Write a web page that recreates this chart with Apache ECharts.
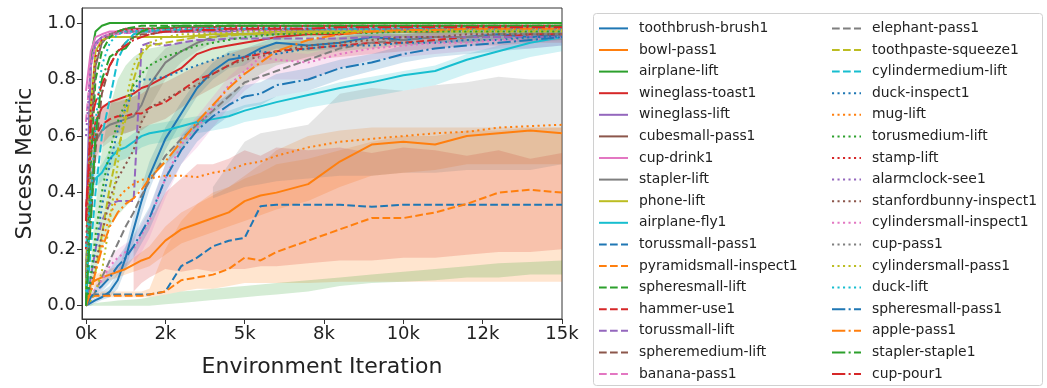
<!DOCTYPE html>
<html><head><meta charset="utf-8">
<script src="https://cdn.jsdelivr.net/npm/echarts@6/dist/echarts.min.js"></script>
<style>html,body{margin:0;padding:0;background:#fff}#c{width:1047px;height:388px}</style>
</head><body><div id="c"></div>
<script>
// ---------- data ----------
const X = [0,150,300,500,750,1000,1250,1500,1750,2000,2500,3000,3500,4000,4500,5000,5500,6000,7000,8000,9000,10000,11000,12000,13000,14000,15000];
const X_TICKS = [0,2500,5000,7500,10000,12500,15000];
const X_TICK_LABELS = ['0k','2k','5k','8k','10k','12k','15k'];
const Y_TICKS = [0,0.2,0.4,0.6,0.8,1.0];

const NAMES = ['toothbrush-brush1','bowl-pass1','airplane-lift','wineglass-toast1','wineglass-lift','cubesmall-pass1','cup-drink1','stapler-lift','phone-lift','airplane-fly1',
 'torussmall-pass1','pyramidsmall-inspect1','spheresmall-lift','hammer-use1','torussmall-lift','spheremedium-lift','banana-pass1','elephant-pass1','toothpaste-squeeze1','cylindermedium-lift',
 'duck-inspect1','mug-lift','torusmedium-lift','stamp-lift','alarmclock-see1','stanfordbunny-inspect1','cylindersmall-inspect1','cup-pass1','cylindersmall-pass1','duck-lift',
 'spheresmall-pass1','apple-pass1','stapler-staple1','cup-pour1'];

const toothbrushBrush1 = [0.0,0.01,0.02,0.03,0.05,0.09,0.17,0.27,0.37,0.46,0.59,0.68,0.77,0.83,0.87,0.88,0.91,0.93,0.92,0.93,0.95,0.94,0.95,0.95,0.96,0.95,0.96];
const bowlPass1 = [0.0,0.08,0.09,0.1,0.11,0.12,0.13,0.145,0.16,0.17,0.23,0.27,0.29,0.31,0.33,0.37,0.39,0.4,0.43,0.51,0.57,0.58,0.57,0.6,0.61,0.62,0.61];
const airplaneLift = [0.05,0.88,0.97,0.99,1.0,1.0,1.0,1.0,1.0,1.0,1.0,1.0,1.0,1.0,1.0,1.0,1.0,1.0,1.0,1.0,1.0,1.0,1.0,1.0,1.0,1.0,1.0];
const wineglassToast1 = [0.3,0.55,0.65,0.7,0.72,0.73,0.74,0.75,0.77,0.78,0.81,0.84,0.89,0.91,0.92,0.93,0.94,0.95,0.96,0.96,0.97,0.97,0.97,0.98,0.98,0.98,0.98];
const wineglassLift = [0.3,0.85,0.93,0.95,0.96,0.97,0.97,0.97,0.97,0.97,0.97,0.97,0.97,0.97,0.97,0.975,0.975,0.975,0.975,0.98,0.98,0.98,0.98,0.98,0.98,0.98,0.98];
const cubesmallPass1 = [0.1,0.6,0.85,0.93,0.96,0.97,0.98,0.98,0.98,0.98,0.98,0.985,0.985,0.985,0.99,0.99,0.99,0.99,0.99,0.99,0.99,0.99,0.99,0.99,0.99,0.99,0.99];
const cupDrink1 = [0.76,0.9,0.95,0.96,0.97,0.97,0.97,0.975,0.975,0.975,0.975,0.975,0.98,0.98,0.98,0.98,0.98,0.98,0.98,0.98,0.98,0.98,0.98,0.98,0.98,0.98,0.98];
const staplerLift = [0.0,0.4,0.58,0.62,0.64,0.65,0.66,0.67,0.71,0.78,0.86,0.9,0.93,0.95,0.96,0.96,0.96,0.96,0.97,0.97,0.97,0.97,0.97,0.98,0.98,0.98,0.98];
const phoneLift = [0.05,0.7,0.9,0.94,0.95,0.95,0.95,0.95,0.95,0.95,0.95,0.95,0.955,0.96,0.96,0.96,0.965,0.97,0.97,0.97,0.975,0.975,0.98,0.98,0.98,0.98,0.98];
const airplaneFly1 = [0.2,0.42,0.45,0.47,0.52,0.55,0.56,0.58,0.6,0.61,0.62,0.635,0.65,0.66,0.67,0.69,0.705,0.72,0.745,0.77,0.79,0.815,0.83,0.87,0.9,0.93,0.95];
const torussmallPass1 = [0.0,0.03,0.04,0.04,0.04,0.04,0.04,0.04,0.04,0.04,0.05,0.14,0.17,0.21,0.23,0.24,0.352,0.357,0.357,0.357,0.35,0.357,0.357,0.357,0.357,0.357,0.357];
const pyramidsmallInspect1 = [0.0,0.03,0.035,0.035,0.035,0.035,0.035,0.035,0.035,0.04,0.05,0.09,0.1,0.11,0.13,0.17,0.16,0.19,0.23,0.27,0.31,0.31,0.33,0.36,0.4,0.41,0.4];
const spheresmallLift = [0.02,0.5,0.8,0.9,0.95,0.97,0.98,0.985,0.99,0.99,0.99,0.99,0.99,0.99,0.99,0.99,0.99,0.99,0.99,0.99,0.99,0.99,0.99,0.99,0.99,0.99,0.99];
const hammerUse1 = [0.35,0.55,0.6,0.64,0.66,0.67,0.67,0.68,0.68,0.7,0.72,0.76,0.8,0.82,0.85,0.88,0.89,0.9,0.91,0.92,0.93,0.93,0.94,0.95,0.95,0.96,0.96];
const torussmallLift = [0.0,0.1,0.2,0.3,0.36,0.37,0.37,0.37,0.92,0.93,0.92,0.93,0.94,0.94,0.945,0.945,0.945,0.945,0.945,0.945,0.95,0.95,0.95,0.95,0.95,0.95,0.95];
const spheremediumLift = [0.0,0.3,0.55,0.75,0.85,0.9,0.93,0.95,0.96,0.96,0.97,0.97,0.97,0.975,0.975,0.975,0.98,0.98,0.98,0.98,0.98,0.98,0.98,0.98,0.98,0.98,0.98];
const bananaPass1 = [0.65,0.85,0.92,0.95,0.96,0.96,0.965,0.965,0.97,0.97,0.97,0.97,0.97,0.975,0.975,0.975,0.975,0.975,0.98,0.98,0.98,0.98,0.98,0.98,0.98,0.98,0.98];
const elephantPass1 = [0.0,0.02,0.05,0.1,0.16,0.22,0.28,0.33,0.39,0.44,0.53,0.59,0.64,0.69,0.74,0.79,0.81,0.83,0.87,0.91,0.93,0.94,0.95,0.95,0.96,0.96,0.96];
const toothpasteSqueeze1 = [0.0,0.05,0.12,0.25,0.42,0.55,0.66,0.8,0.89,0.92,0.93,0.94,0.95,0.95,0.955,0.96,0.96,0.96,0.965,0.965,0.97,0.97,0.97,0.97,0.97,0.97,0.97];
const cylindermediumLift = [0.0,0.2,0.4,0.6,0.73,0.87,0.93,0.96,0.97,0.97,0.975,0.975,0.975,0.98,0.98,0.98,0.98,0.98,0.98,0.98,0.98,0.98,0.98,0.98,0.98,0.98,0.98];
const duckInspect1 = [0.0,0.1,0.2,0.35,0.5,0.62,0.7,0.76,0.8,0.8,0.81,0.83,0.85,0.87,0.89,0.88,0.9,0.89,0.91,0.92,0.92,0.93,0.93,0.94,0.94,0.95,0.95];
const mugLift = [0.0,0.05,0.12,0.22,0.32,0.38,0.41,0.43,0.445,0.45,0.46,0.46,0.455,0.47,0.48,0.5,0.51,0.53,0.56,0.58,0.59,0.6,0.61,0.615,0.63,0.635,0.64];
const torusmediumLift = [0.0,0.1,0.25,0.4,0.55,0.65,0.72,0.78,0.82,0.85,0.88,0.9,0.92,0.93,0.94,0.95,0.955,0.96,0.96,0.965,0.965,0.97,0.97,0.97,0.97,0.97,0.97];
const stampLift = [0.2,0.7,0.88,0.94,0.96,0.97,0.975,0.975,0.98,0.98,0.98,0.98,0.98,0.985,0.985,0.985,0.985,0.985,0.99,0.99,0.99,0.99,0.99,0.99,0.99,0.99,0.99];
const alarmclockSee1 = [0.6,0.85,0.92,0.95,0.96,0.965,0.965,0.97,0.97,0.97,0.97,0.97,0.97,0.97,0.97,0.97,0.97,0.97,0.975,0.975,0.975,0.975,0.975,0.975,0.975,0.975,0.975];
const stanfordbunnyInspect1 = [0.0,0.05,0.15,0.25,0.38,0.45,0.5,0.55,0.65,0.7,0.73,0.76,0.78,0.82,0.85,0.87,0.88,0.9,0.92,0.93,0.94,0.95,0.95,0.96,0.96,0.96,0.96];
const cylindersmallInspect1 = [0.0,0.03,0.06,0.09,0.14,0.17,0.19,0.2,0.25,0.3,0.45,0.57,0.63,0.7,0.78,0.83,0.88,0.87,0.86,0.89,0.91,0.92,0.93,0.93,0.94,0.94,0.95];
const cupPass1 = [0.1,0.6,0.85,0.93,0.96,0.965,0.97,0.97,0.97,0.97,0.97,0.97,0.97,0.975,0.975,0.975,0.975,0.975,0.975,0.98,0.98,0.98,0.98,0.98,0.98,0.98,0.98];
const cylindersmallPass1 = [0.0,0.02,0.05,0.12,0.3,0.5,0.72,0.85,0.9,0.93,0.95,0.96,0.96,0.965,0.965,0.97,0.97,0.97,0.97,0.97,0.97,0.97,0.975,0.975,0.975,0.975,0.975];
const duckLift = [0.05,0.35,0.65,0.85,0.93,0.96,0.97,0.97,0.975,0.975,0.975,0.98,0.98,0.98,0.98,0.98,0.98,0.98,0.98,0.98,0.98,0.98,0.98,0.98,0.98,0.98,0.98];
const spheresmallPass1 = [0.0,0.03,0.05,0.07,0.1,0.14,0.17,0.21,0.26,0.31,0.45,0.55,0.62,0.67,0.71,0.74,0.75,0.78,0.8,0.84,0.86,0.89,0.91,0.92,0.93,0.94,0.95];
const applePass1 = [0.0,0.05,0.12,0.2,0.28,0.33,0.36,0.38,0.41,0.45,0.51,0.58,0.65,0.71,0.77,0.82,0.86,0.9,0.94,0.96,0.97,0.975,0.975,0.98,0.98,0.98,0.98];
const staplerStaple1 = [0.0,0.3,0.6,0.8,0.88,0.9,0.91,0.95,0.97,0.98,0.985,0.99,0.99,0.99,0.99,0.99,0.99,0.99,0.99,0.99,0.99,0.99,0.99,0.99,0.99,0.99,0.99];
const cupPour1 = [0.3,0.65,0.72,0.78,0.85,0.9,0.92,0.94,0.95,0.96,0.97,0.97,0.975,0.975,0.98,0.98,0.98,0.98,0.98,0.985,0.985,0.985,0.985,0.985,0.985,0.985,0.985];

// shaded bands (lower / upper edges), same X grid; null = no band there
const bowlPass1Lo = [0,0.06,0.07,0.08,0.09,0.1,0.11,0.12,0.13,0.14,0.18,0.22,0.24,0.26,0.28,0.3,0.32,0.34,0.37,0.42,0.46,0.47,0.48,0.5,0.5,0.5,0.5];
const bowlPass1Hi = [0,0.1,0.11,0.12,0.13,0.14,0.15,0.17,0.19,0.21,0.28,0.33,0.36,0.39,0.42,0.46,0.5,0.55,0.6,0.62,0.63,0.63,0.63,0.63,0.63,0.63,0.63];
const pyramidLo = [0.0,0.02,0.03,0.03,0.03,0.03,0.03,0.03,0.03,0.03,0.04,0.05,0.06,0.06,0.07,0.08,0.08,0.08,0.08,0.085,0.085,0.085,0.085,0.085,0.085,0.085,0.085];
const pyramidHi = [0.0,0.04,0.045,0.05,0.05,0.05,0.05,0.05,0.05,0.06,0.2,0.3,0.36,0.4,0.42,0.45,0.47,0.5,0.52,0.55,0.58,0.6,0.6,0.62,0.62,0.63,0.63];
const toastLo = [null,null,null,null,null,null,null,0.05,0.08,0.1,0.13,0.12,0.13,0.12,0.13,0.13,0.14,0.14,0.15,0.16,0.16,0.17,0.17,0.18,0.19,0.19,0.2];
const toastHi = [null,null,null,null,null,null,null,0.2,0.25,0.3,0.4,0.45,0.5,0.5,0.52,0.55,0.53,0.56,0.55,0.56,0.54,0.56,0.55,0.53,0.55,0.52,0.54];
const cupPassLo = [null,null,null,null,null,null,null,null,null,null,null,null,null,0.38,0.4,0.42,0.43,0.44,0.45,0.46,0.46,0.47,0.47,0.48,0.48,0.48,0.5];
const cupPassHi = [null,null,null,null,null,null,null,null,null,null,null,null,null,0.42,0.5,0.58,0.61,0.62,0.64,0.75,0.77,0.76,0.78,0.79,0.81,0.8,0.8];
const sphereLiftLo = [0,0,0,0,0,0,0,0,0,0,0.005,0.01,0.015,0.02,0.025,0.03,0.035,0.04,0.05,0.07,0.08,0.085,0.09,0.1,0.1,0.11,0.11];
const sphereLiftHi = [0,0.005,0.01,0.012,0.015,0.018,0.02,0.022,0.025,0.03,0.04,0.05,0.055,0.06,0.065,0.07,0.075,0.08,0.09,0.1,0.11,0.12,0.13,0.14,0.15,0.155,0.16];
const flyLo = [0.15,0.38,0.42,0.44,0.48,0.51,0.52,0.54,0.56,0.57,0.58,0.6,0.61,0.62,0.63,0.65,0.66,0.67,0.7,0.72,0.74,0.76,0.78,0.82,0.85,0.88,0.9];
const flyHi = [0.25,0.46,0.48,0.5,0.55,0.58,0.59,0.61,0.63,0.64,0.65,0.66,0.67,0.68,0.69,0.71,0.72,0.74,0.76,0.79,0.81,0.83,0.85,0.89,0.92,0.95,0.97];
const spherePassLo = [0,0.02,0.04,0.05,0.08,0.11,0.13,0.17,0.22,0.27,0.4,0.5,0.58,0.63,0.67,0.7,0.71,0.74,0.76,0.8,0.83,0.86,0.88,0.89,0.9,0.91,0.92];
const spherePassHi = [0,0.04,0.07,0.09,0.13,0.17,0.21,0.25,0.3,0.35,0.5,0.6,0.66,0.71,0.75,0.78,0.79,0.82,0.84,0.87,0.89,0.92,0.94,0.95,0.96,0.97,0.97];
const torusMedLo = [0,0.05,0.12,0.2,0.28,0.32,0.35,0.38,0.42,0.45,0.5,0.55,0.62,0.68,0.72,0.78,0.82,0.85,0.88,0.9,0.91,0.92,0.93,0.93,0.94,0.94,0.94];
const torusMedHi = [0,0.15,0.35,0.55,0.7,0.8,0.85,0.88,0.9,0.91,0.92,0.93,0.94,0.95,0.96,0.97,0.97,0.98,0.98,0.98,0.98,0.98,0.98,0.98,0.98,0.98,0.98];
const cylInspLo = [0,0.02,0.04,0.06,0.1,0.12,0.14,0.15,0.19,0.24,0.38,0.5,0.56,0.63,0.7,0.76,0.8,0.8,0.8,0.84,0.87,0.88,0.89,0.9,0.91,0.91,0.92];
const cylInspHi = [0,0.04,0.08,0.11,0.17,0.2,0.22,0.24,0.29,0.34,0.5,0.61,0.67,0.74,0.81,0.86,0.9,0.9,0.89,0.92,0.94,0.95,0.96,0.96,0.97,0.97,0.97];
const brushLo = [0,0,0.01,0.02,0.03,0.06,0.13,0.22,0.32,0.41,0.55,0.65,0.74,0.8,0.84,0.85,0.89,0.91,0.9,0.91,0.93,0.92,0.93,0.93,0.94,0.93,0.94];
const brushHi = [0,0.02,0.03,0.05,0.07,0.12,0.21,0.32,0.42,0.51,0.63,0.72,0.8,0.86,0.9,0.91,0.93,0.95,0.94,0.95,0.97,0.96,0.97,0.97,0.98,0.97,0.98];
const staplerLo = [0,0.3,0.5,0.56,0.58,0.6,0.61,0.62,0.64,0.7,0.8,0.86,0.9,0.93,0.94,0.94,0.94,0.94,0.95,0.95,0.95,0.95,0.95,0.96,0.96,0.96,0.96];
const staplerHi = [0,0.5,0.66,0.7,0.72,0.72,0.73,0.74,0.77,0.85,0.91,0.94,0.96,0.97,0.98,0.98,0.98,0.98,0.99,0.99,0.99,0.99,0.99,0.99,0.99,0.99,0.99];
const hammerLo = [0.2,0.45,0.52,0.57,0.6,0.61,0.61,0.62,0.62,0.64,0.66,0.7,0.74,0.77,0.8,0.83,0.85,0.86,0.87,0.88,0.89,0.9,0.91,0.92,0.92,0.93,0.93];
const hammerHi = [0.45,0.65,0.68,0.71,0.72,0.73,0.73,0.74,0.75,0.77,0.79,0.82,0.85,0.87,0.89,0.91,0.92,0.93,0.94,0.95,0.96,0.96,0.97,0.97,0.97,0.98,0.98];

// ---------- assembly ----------
const MEANS = [toothbrushBrush1,bowlPass1,airplaneLift,wineglassToast1,wineglassLift,cubesmallPass1,cupDrink1,staplerLift,phoneLift,airplaneFly1,
 torussmallPass1,pyramidsmallInspect1,spheresmallLift,hammerUse1,torussmallLift,spheremediumLift,bananaPass1,elephantPass1,toothpasteSqueeze1,cylindermediumLift,
 duckInspect1,mugLift,torusmediumLift,stampLift,alarmclockSee1,stanfordbunnyInspect1,cylindersmallInspect1,cupPass1,cylindersmallPass1,duckLift,
 spheresmallPass1,applePass1,staplerStaple1,cupPour1];
const BANDS = [
 [0, brushLo, brushHi],[1, bowlPass1Lo, bowlPass1Hi],[3, toastLo, toastHi],[7, staplerLo, staplerHi],[9, flyLo, flyHi],
 [11, pyramidLo, pyramidHi],[12, sphereLiftLo, sphereLiftHi],[13, hammerLo, hammerHi],
 [22, torusMedLo, torusMedHi],[26, cylInspLo, cylInspHi],[27, cupPassLo, cupPassHi],[30, spherePassLo, spherePassHi]
];
const TAB10 = ['#1f77b4','#ff7f0e','#2ca02c','#d62728','#9467bd','#8c564b','#e377c2','#7f7f7f','#bcbd22','#17becf'];
const DASH = ['solid',[7.7,3.3],[2.1,3.4],[13.3,3.3,2.1,3.3]];
const FONT = 'DejaVu Sans';

const series = [];
BANDS.forEach(([idx, lo, hi]) => {
  series.push({
    type:'custom', coordinateSystem:'cartesian2d', silent:true, clip:true, z:1,
    data:[[0,0]], encode:{x:0,y:1},
    renderItem(params, api){
      const pts = [];
      for (let i=0;i<X.length;i++) if (hi[i]!=null) pts.push(api.coord([X[i], hi[i]]));
      for (let i=X.length-1;i>=0;i--) if (lo[i]!=null) pts.push(api.coord([X[i], lo[i]]));
      return {type:'polygon', shape:{points:pts}, style:{fill:TAB10[idx%10], opacity:0.2}};
    }
  });
});
MEANS.forEach((arr, i) => {
  series.push({
    type:'line', name:NAMES[i], data:X.map((x,j)=>[x, arr[j]]),
    symbol:'none', showSymbol:false, silent:true, z:3, color:TAB10[i%10],
    lineStyle:{width:2, type:DASH[Math.floor(i/10)], cap:'butt', color:TAB10[i%10]}
  });
});

const legendBase = {
  orient:'vertical', top:21.4, itemWidth:29, itemHeight:14, itemGap:7.6, padding:0,
  selectedMode:false, itemStyle:{opacity:0},
  textStyle:{fontSize:13.9, fontFamily:FONT, color:'#222', lineHeight:14, padding:[0,0,0,6]}
};

const chart = echarts.init(document.getElementById('c'), null, {renderer:'canvas'});
chart.setOption({
  animation:false,
  backgroundColor:'#fff',
  grid:{left:82, top:8, width:480, height:311, show:true, borderColor:'#333', borderWidth:1, backgroundColor:'transparent', outerBoundsMode:'none'},
  xAxis:{type:'value', min:-126, max:15000,
    axisLine:{show:true, onZero:false, lineStyle:{color:'#333'}},
    axisTick:{show:true, customValues:X_TICKS, length:5, lineStyle:{color:'#333'}},
    axisLabel:{customValues:X_TICKS, formatter:v => X_TICK_LABELS[X_TICKS.indexOf(v)], fontSize:18, fontFamily:FONT, color:'#222', margin:6},
    splitLine:{show:false},
    name:'Environment Iteration', nameLocation:'middle', nameGap:37,
    nameTextStyle:{fontSize:22, fontFamily:FONT, color:'#222'}},
  yAxis:{type:'value', min:-0.047, max:1.053,
    axisLine:{show:true, onZero:false, lineStyle:{color:'#333'}},
    axisTick:{show:true, customValues:Y_TICKS, length:5, lineStyle:{color:'#333'}},
    axisLabel:{customValues:Y_TICKS, formatter:v => v.toFixed(1), fontSize:18, fontFamily:FONT, color:'#222', margin:6},
    splitLine:{show:false},
    name:'Sucess Metric', nameLocation:'middle', nameGap:46,
    nameTextStyle:{fontSize:22, fontFamily:FONT, color:'#222'}},
  legend:[
    Object.assign({}, legendBase, {left:598, data:NAMES.slice(0,17)}),
    Object.assign({}, legendBase, {left:831, data:NAMES.slice(17)})
  ],
  graphic:[{type:'rect', silent:true, z:0, shape:{x:593.5, y:13.5, width:449, height:372, r:3},
    style:{fill:'none', stroke:'#d0d0d0', lineWidth:1}}],
  series
});
</script></body></html>
